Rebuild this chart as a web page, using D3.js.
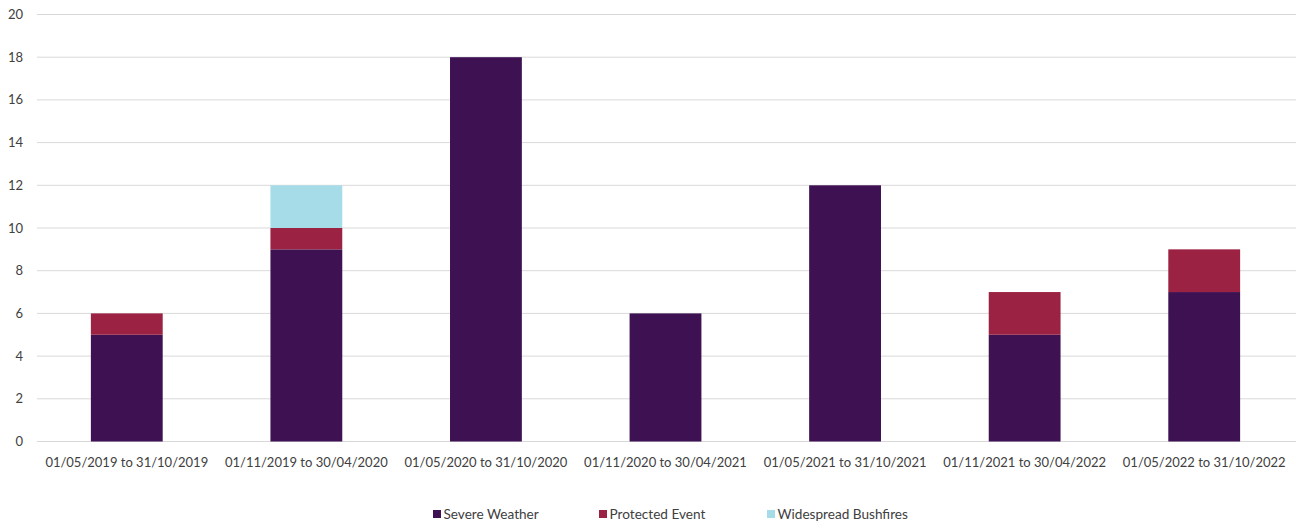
<!DOCTYPE html>
<html>
<head>
<meta charset="utf-8">
<script src="https://cdn.jsdelivr.net/npm/d3@7"></script>
<style>
  body { margin: 0; background: #fff; }
  text { font-family: Lato, "Open Sans", sans-serif; fill: #404040; }
</style>
</head>
<body>
<div id="chart"></div>
<script>
const periods = ["01/05/2019 to 31/10/2019", "01/11/2019 to 30/04/2020", "01/05/2020 to 31/10/2020",
  "01/11/2020 to 30/04/2021", "01/05/2021 to 31/10/2021", "01/11/2021 to 30/04/2022", "01/05/2022 to 31/10/2022"];
const severeWeather = [5, 9, 18, 6, 12, 5, 7];
const protectedEvent = [1, 1, 0, 0, 0, 2, 2];
const widespreadBushfires = [0, 2, 0, 0, 0, 0, 0];
const seriesNames = ["Severe Weather", "Protected Event", "Widespread Bushfires"];
const colors = ["#3d1152", "#9b2242", "#a5dce8"];
const yTicks = [0, 2, 4, 6, 8, 10, 12, 14, 16, 18, 20];

const w = 1296, h = 532;
const plotLeft = 37, plotRight = 1294, plotTop = 14.5, plotBottom = 441.5;

const rows = periods.map((p, i) => ({
  period: p,
  "Severe Weather": severeWeather[i],
  "Protected Event": protectedEvent[i],
  "Widespread Bushfires": widespreadBushfires[i]
}));
const stacked = d3.stack().keys(seriesNames)(rows);

const svg = d3.select("#chart").append("svg")
  .attr("width", w).attr("height", h);

const x = d3.scaleBand().domain(periods).range([plotLeft, plotRight]).paddingInner(0.6).paddingOuter(0.3);
const y = d3.scaleLinear().domain([0, 20]).range([plotBottom, plotTop]);

// gridlines
svg.append("g").selectAll("line").data(yTicks).enter().append("line")
  .attr("x1", plotLeft).attr("x2", w)
  .attr("y1", d => y(d)).attr("y2", d => y(d))
  .attr("stroke", "#d9d9d9").attr("stroke-width", 1);

// y labels
svg.append("g").selectAll("text").data(yTicks).enter().append("text")
  .attr("x", 23).attr("y", d => y(d) + 4.5)
  .attr("text-anchor", "end").style("font-size", "13px")
  .text(d => d);

// bars
svg.append("g").selectAll("g").data(stacked).enter().append("g")
  .attr("fill", (d, i) => colors[i])
  .selectAll("rect").data(d => d).enter().append("rect")
  .attr("x", d => x(d.data.period))
  .attr("width", x.bandwidth())
  .attr("y", d => y(d[1]))
  .attr("height", d => y(d[0]) - y(d[1]));

// x axis labels
svg.append("g").selectAll("text").data(periods).enter().append("text")
  .attr("x", d => x(d) + x.bandwidth() / 2).attr("y", 467)
  .attr("text-anchor", "middle").style("font-size", "13px")
  .text(d => d);

// legend
const legendX = [433, 599, 767];
const lg = svg.append("g").selectAll("g").data(seriesNames).enter().append("g")
  .attr("transform", (d, i) => `translate(${legendX[i]},517)`);
lg.append("rect").attr("x", 0).attr("y", -7).attr("width", 8).attr("height", 8)
  .attr("fill", (d, i) => colors[i]);
lg.append("text").attr("x", 10.5).attr("y", 1.5).style("font-size", "13.6px").text(d => d);
</script>
</body>
</html>
